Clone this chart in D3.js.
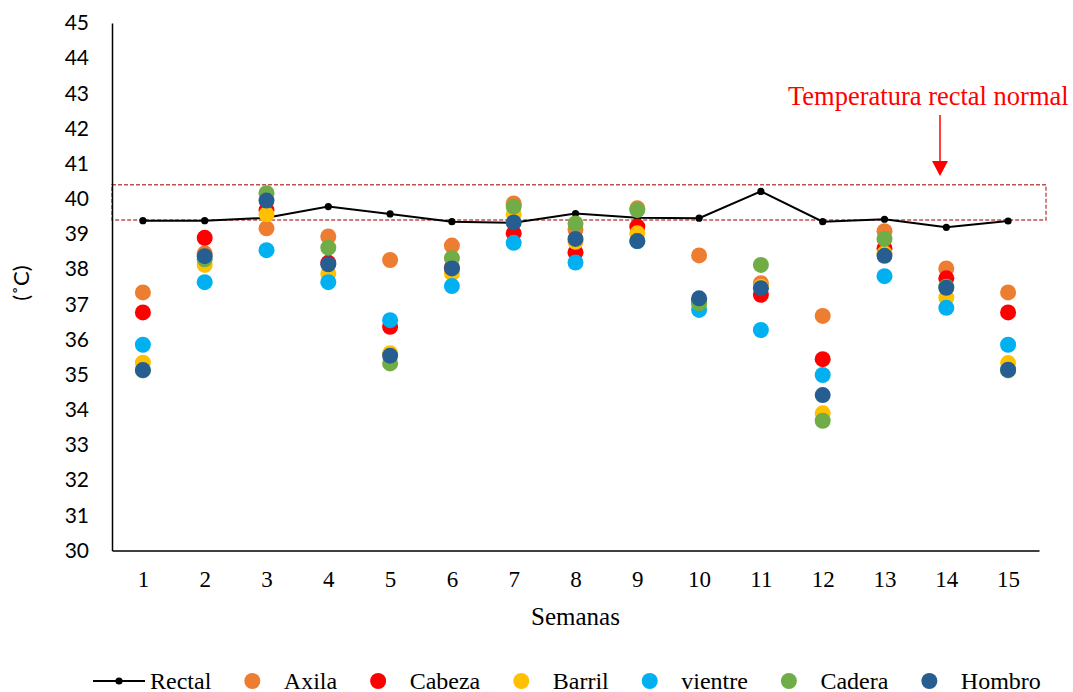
<!DOCTYPE html>
<html>
<head>
<meta charset="utf-8">
<script src="https://cdn.jsdelivr.net/npm/d3@7"></script>
<style>
  html, body { margin: 0; padding: 0; background: #fff; }
  svg { display: block; }
</style>
</head>
<body>
<svg id="chart" width="1073" height="692"></svg>
<script>
const weeks = [1,2,3,4,5,6,7,8,9,10,11,12,13,14,15];
const rectal  = [39.38,39.38,39.46,39.78,39.57,39.35,39.32,39.58,39.46,39.45,40.21,39.35,39.42,39.19,39.37];
const axila   = [37.34,38.45,39.16,38.93,38.26,38.67,39.87,39.13,39.73,38.39,37.60,36.67,39.08,38.02,37.34];
const cabeza  = [36.77,38.89,39.68,38.18,36.36,38.05,39.02,38.48,39.21,37.10,37.27,35.44,38.59,37.74,36.77];
const barril  = [35.34,38.12,39.56,37.88,35.61,37.88,39.56,38.78,39.02,37.00,37.50,33.90,38.45,37.19,35.33];
const vientre = [35.85,37.63,38.54,37.63,36.55,37.52,38.75,38.19,38.80,36.84,36.27,34.99,37.80,36.90,35.85];
const cadera  = [35.12,38.28,40.16,38.61,35.32,38.31,39.78,39.30,39.68,37.03,38.12,33.69,38.86,37.50,35.12];
const hombro  = [35.13,38.37,39.95,38.14,35.54,38.02,39.33,38.86,38.80,37.17,37.46,34.42,38.38,37.47,35.14];
const yTicks = [30,31,32,33,34,35,36,37,38,39,40,41,42,43,44,45];
const normalRange = [39.4, 40.4];
const seriesNames = ["Axila","Cabeza","Barril","vientre","Cadera","Hombro"];
const seriesValues = [axila, cabeza, barril, vientre, cadera, hombro];
const seriesColors = ["#ED7D31","#FF0000","#FFC000","#00B0F0","#70AD47","#265E92"];
const annotationText = "Temperatura rectal normal";

const svg = d3.select("#chart");
const plotLeft = 112, plotRight = 1039, plotTop = 23, plotBottom = 550.5;

const x = d3.scalePoint().domain(weeks).range([plotLeft, plotRight]).padding(0.5);
const y = d3.scaleLinear().domain([30, 45]).range([plotBottom, plotTop]);

// Normal range box
svg.append("rect")
  .attr("x", plotLeft).attr("y", y(normalRange[1]))
  .attr("width", 1046 - plotLeft).attr("height", y(normalRange[0]) - y(normalRange[1]))
  .attr("fill", "none").attr("stroke", "#C0504D").attr("stroke-width", 1.4)
  .attr("stroke-dasharray", "4,2");

// Axes
const yAxis = d3.axisLeft(y).tickValues(yTicks).tickSize(0).tickPadding(23).tickFormat(d3.format("d"));
const gy = svg.append("g").attr("transform", `translate(${plotLeft},0)`).call(yAxis);
gy.select(".domain").attr("stroke", "#000").attr("stroke-width", 1.5);
gy.selectAll("text").attr("font-family", "Lato, 'Liberation Sans', sans-serif").attr("font-size", 21).attr("fill", "#000");

const xAxis = d3.axisBottom(x).tickSize(0).tickPadding(20);
const gx = svg.append("g").attr("transform", `translate(0,${plotBottom})`).call(xAxis);
gx.select(".domain").attr("stroke", "#000").attr("stroke-width", 1.5);
gx.selectAll("text").attr("font-family", "'Liberation Serif', 'Times New Roman', serif").attr("font-size", 23).attr("fill", "#000");

// Axis titles
svg.append("text").attr("x", 575.5).attr("y", 625)
  .attr("text-anchor", "middle").attr("font-family", "'Liberation Serif', 'Times New Roman', serif")
  .attr("font-size", 25).text("Semanas");
svg.append("text").attr("transform", "translate(29,283) rotate(-90)")
  .attr("text-anchor", "middle").attr("font-family", "Lato, 'Liberation Sans', sans-serif")
  .attr("font-size", 22).text("(˚C)");

// Rectal line
const line = d3.line().x((d, i) => x(weeks[i])).y(d => y(d));
svg.append("path").datum(rectal).attr("d", line)
  .attr("fill", "none").attr("stroke", "#000").attr("stroke-width", 2);
svg.append("g").selectAll("circle").data(rectal).join("circle")
  .attr("cx", (d, i) => x(weeks[i])).attr("cy", d => y(d)).attr("r", 3.6).attr("fill", "#000");

// Scatter series
seriesValues.forEach((vals, s) => {
  svg.append("g").selectAll("circle").data(vals).join("circle")
    .attr("cx", (d, i) => x(weeks[i])).attr("cy", d => y(d)).attr("r", 8)
    .attr("fill", seriesColors[s]);
});

// Annotation
svg.append("text").attr("x", 788).attr("y", 105)
  .attr("font-family", "'Liberation Serif', 'Times New Roman', serif").attr("font-size", 26.5)
  .attr("fill", "#FF0000").text(annotationText);
svg.append("line").attr("x1", 940).attr("x2", 940).attr("y1", 115).attr("y2", 162)
  .attr("stroke", "#FF0000").attr("stroke-width", 1.5);
svg.append("path").attr("d", "M932,161 L948,161 L940,176 Z").attr("fill", "#FF0000");

// Legend
const ly = 681;
const lg = svg.append("g");
const lfont = "'Liberation Serif', 'Times New Roman', serif";
lg.append("line").attr("x1", 93).attr("x2", 145).attr("y1", ly).attr("y2", ly).attr("stroke", "#000").attr("stroke-width", 2);
lg.append("circle").attr("cx", 119).attr("cy", ly).attr("r", 3.6).attr("fill", "#000");
const rt = lg.append("text").attr("x", 150).attr("y", ly + 7.5).attr("font-family", lfont).attr("font-size", 24).text("Rectal");
let cursor = 150 + rt.node().getComputedTextLength();
seriesNames.forEach((name, s) => {
  const cx = cursor + 41;
  lg.append("circle").attr("cx", cx).attr("cy", ly).attr("r", 8).attr("fill", seriesColors[s]);
  const t = lg.append("text").attr("x", cx + 31.5).attr("y", ly + 7.5).attr("font-family", lfont).attr("font-size", 24).text(name);
  cursor = cx + 31.5 + t.node().getComputedTextLength();
});
</script>
</body>
</html>
